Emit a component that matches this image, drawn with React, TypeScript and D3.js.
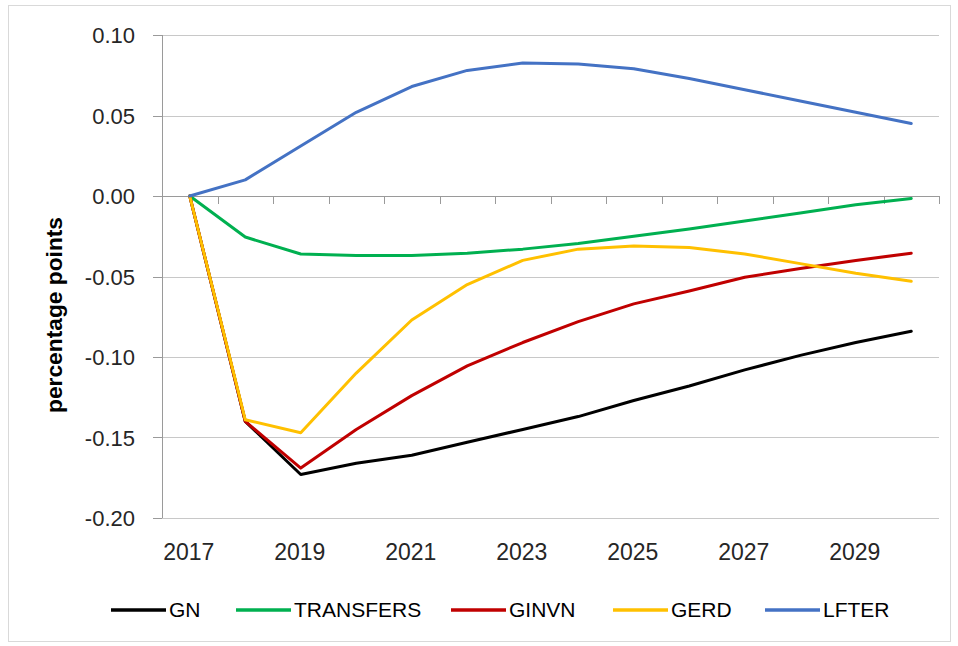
import React from "react";
import * as d3 from "d3";

const years = [2017, 2018, 2019, 2020, 2021, 2022, 2023, 2024, 2025, 2026, 2027, 2028, 2029, 2030];
const GN = [0, -0.14, -0.173, -0.166, -0.161, -0.153, -0.145, -0.137, -0.127, -0.118, -0.108, -0.099, -0.091, -0.084];
const TRANSFERS = [0, -0.0255, -0.036, -0.037, -0.037, -0.0355, -0.033, -0.0295, -0.025, -0.0205, -0.0155, -0.0105, -0.0055, -0.0015];
const GINVN = [0, -0.14, -0.169, -0.145, -0.124, -0.1055, -0.091, -0.078, -0.067, -0.059, -0.0505, -0.045, -0.04, -0.0355];
const GERD = [0, -0.139, -0.147, -0.11, -0.077, -0.055, -0.04, -0.033, -0.031, -0.032, -0.036, -0.042, -0.048, -0.053];
const LFTER = [0, 0.01, 0.031, 0.052, 0.068, 0.078, 0.0826, 0.082, 0.079, 0.073, 0.066, 0.059, 0.052, 0.045];
const yTicks = [0.1, 0.05, 0, -0.05, -0.1, -0.15, -0.2];
const xLabelYears = [2017, 2019, 2021, 2023, 2025, 2027, 2029];

const series = [
  { name: "GN", values: GN, color: "#000000" },
  { name: "TRANSFERS", values: TRANSFERS, color: "#00b050" },
  { name: "GINVN", values: GINVN, color: "#c00000" },
  { name: "GERD", values: GERD, color: "#ffc000" },
  { name: "LFTER", values: LFTER, color: "#4472c4" },
];

const W = 958;
const H = 646;
const plotLeft = 162;
const plotRight = 939;
const plotTop = 35;
const plotBottom = 518;

export default function App() {
  const xBand = d3
    .scaleBand<number>()
    .domain(years)
    .range([plotLeft, plotRight])
    .paddingInner(0)
    .paddingOuter(0);
  const xc = (yr: number) => (xBand(yr) as number) + xBand.bandwidth() / 2;
  const y = d3.scaleLinear().domain([-0.2, 0.1]).range([plotBottom, plotTop]);

  const line = d3
    .line<number>()
    .x((_, i) => xc(years[i]))
    .y((v) => y(v));

  const font = "'Liberation Sans', Arial, sans-serif";
  const y0 = y(0);
  const boundaries = years.map((yr) => xBand(yr) as number).concat([plotRight]);
  const fmt = (t: number) => d3.format(".2f")(t).replace("\u2212", "-");

  const legendX = [111, 236, 451, 613, 765];

  return (
    <div style={{ position: "absolute", left: 0, top: 0 }}>
      <svg width={W} height={H} style={{ display: "block" }}>
        <rect x={0} y={0} width={W} height={H} fill="#ffffff" />
        <rect x={8.5} y={5.5} width={942} height={636} fill="none" stroke="#d9d9d9" strokeWidth={1} />
        {/* gridlines */}
        {yTicks.map((t) => (
          <line
            key={"g" + t}
            x1={plotLeft}
            x2={plotRight}
            y1={Math.round(y(t)) + 0.5}
            y2={Math.round(y(t)) + 0.5}
            stroke="#c8c8c8"
            strokeWidth={1}
          />
        ))}
        {/* y axis */}
        <line x1={plotLeft + 0.5} x2={plotLeft + 0.5} y1={plotTop} y2={plotBottom} stroke="#9a9a9a" strokeWidth={1} />
        {yTicks.map((t) => (
          <line
            key={"yt" + t}
            x1={plotLeft - 9}
            x2={plotLeft}
            y1={Math.round(y(t)) + 0.5}
            y2={Math.round(y(t)) + 0.5}
            stroke="#9a9a9a"
            strokeWidth={1}
          />
        ))}
        {yTicks.map((t) => (
          <text
            key={"yl" + t}
            x={135}
            y={y(t) + 8}
            textAnchor="end"
            fontFamily={font}
            fontSize={22}
            fill="#262626"
          >
            {fmt(t)}
          </text>
        ))}
        {/* x axis at zero */}
        <line x1={plotLeft} x2={plotRight} y1={Math.round(y0) + 0.5} y2={Math.round(y0) + 0.5} stroke="#9a9a9a" strokeWidth={1} />
        {boundaries.map((bx, i) => (
          <line
            key={"xt" + i}
            x1={Math.round(bx) + 0.5}
            x2={Math.round(bx) + 0.5}
            y1={y0}
            y2={y0 + 8}
            stroke="#9a9a9a"
            strokeWidth={1}
          />
        ))}
        {xLabelYears.map((yr) => (
          <text
            key={"xl" + yr}
            x={xc(yr) - 1}
            y={560}
            textAnchor="middle"
            fontFamily={font}
            fontSize={23}
            fill="#262626"
          >
            {yr}
          </text>
        ))}
        {/* axis title */}
        <text
          transform={`translate(62,315) rotate(-90)`}
          textAnchor="middle"
          fontFamily={font}
          fontWeight="bold"
          fontSize={22}
          textLength={196}
          lengthAdjust="spacingAndGlyphs"
          fill="#000000"
        >
          percentage points
        </text>
        {/* series */}
        {series.map((s) => (
          <path
            key={s.name}
            d={line(s.values) || ""}
            fill="none"
            stroke={s.color}
            strokeWidth={3}
            strokeLinejoin="round"
            strokeLinecap="round"
          />
        ))}
        {/* legend */}
        {series.map((s, i) => (
          <g key={"lg" + s.name}>
            <line
              x1={legendX[i]}
              x2={legendX[i] + 55}
              y1={610}
              y2={610}
              stroke={s.color}
              strokeWidth={3.5}
            />
            <text
              x={legendX[i] + 58}
              y={617}
              fontFamily={font}
              fontSize={21}
              fill="#000000"
            >
              {s.name}
            </text>
          </g>
        ))}
      </svg>
    </div>
  );
}
